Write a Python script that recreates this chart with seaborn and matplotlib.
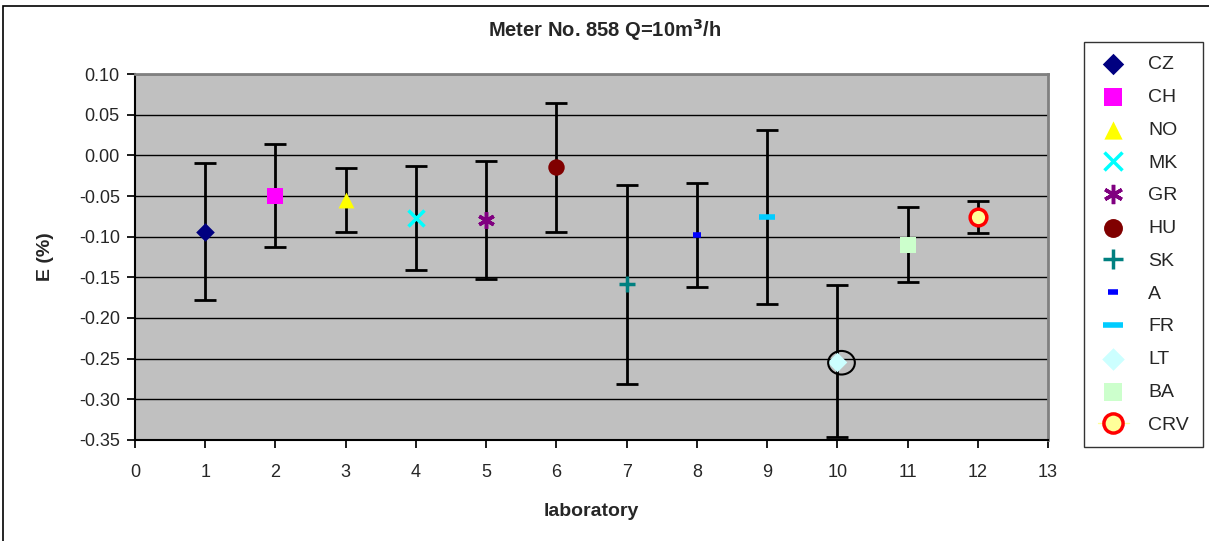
import numpy as np
import pandas as pd
import seaborn as sns
import matplotlib.pyplot as plt
from matplotlib.patches import Rectangle, Ellipse

labs = ["CZ", "CH", "NO", "MK", "GR", "HU", "SK", "A", "FR", "LT", "BA", "CRV"]
lab_no = [1, 2, 3, 4, 5, 6, 7, 8, 9, 10, 11, 12]
err = [-0.094, -0.050, -0.055, -0.077, -0.080, -0.014, -0.158, -0.098, -0.076, -0.254, -0.110, -0.076]
upper = [-0.009, 0.014, -0.016, -0.013, -0.007, 0.064, -0.036, -0.034, 0.031, -0.160, -0.064, -0.056]
lower = [-0.178, -0.113, -0.094, -0.141, -0.152, -0.094, -0.281, -0.162, -0.183, -0.346, -0.156, -0.096]
yticks = [-0.35, -0.30, -0.25, -0.20, -0.15, -0.10, -0.05, 0.00, 0.05, 0.10]

markers = ["D", "s", "^", "x", (6, 2, 0), "o", "+", "_", "_", "D", "s", "o"]
colors = ["#000080", "#FF00FF", "#FFFF00", "#00FFFF", "#800080", "#800000",
          "#008080", "#0000FF", "#00CCFF", "#CCFFFF", "#CCFFCC", "#FFFF99"]
sizes = [90, 130, 130, 110, 120, 140, 120, 30, 120, 100, 130, 140]

df = pd.DataFrame({"lab": labs, "no": lab_no, "E": err, "up": upper, "lo": lower})

sns.set_theme(style="white")
plt.rcParams["font.family"] = ["Liberation Sans", "DejaVu Sans"]

fig = plt.figure(figsize=(12.09, 5.41), dpi=100)
ax = fig.add_axes([0.1117, 0.1867, 0.7551, 0.6765])
ax.set_facecolor("#C0C0C0")

# error bars
ax.errorbar(df["no"], df["E"], yerr=[df["E"] - df["lo"], df["up"] - df["E"]],
            fmt="none", ecolor="black", elinewidth=2, capsize=8, capthick=2, zorder=2)

for i, row in df.iterrows():
    m = markers[i]
    if row["lab"] == "CRV":
        ax.plot([row["no"]], [row["E"]], marker="o", ms=12, mfc=colors[i], mec="red",
                mew=2.5, color="#FFFF99", lw=1, label=row["lab"], zorder=4)
    elif m in ["x", "+", "_"] or isinstance(m, tuple):
        lw = 4 if m == "_" else 2.5
        ax.plot([row["no"]], [row["E"]], marker=m, ms=np.sqrt(sizes[i]) * 1.1,
                mec=colors[i], mfc=colors[i], mew=lw, ls="none", label=row["lab"], zorder=4)
    else:
        sns.scatterplot(x=[row["no"]], y=[row["E"]], marker=m, color=colors[i], s=sizes[i],
                        edgecolor=colors[i], linewidth=0, ax=ax, label=row["lab"], zorder=4)

# circle around LT outlier
ax.add_patch(Ellipse((10.06, -0.255), 0.38, 0.029, fill=False, ec="black", lw=1.5, zorder=5))

ax.set_xlim(0, 13)
ax.set_ylim(-0.35, 0.10)
ax.set_xticks(range(0, 14))
ax.set_yticks(yticks)
ax.set_yticklabels([f"{v:.2f}" for v in yticks])
ax.yaxis.grid(True, color="black", lw=1)
ax.set_axisbelow(True)
ax.tick_params(axis="both", labelsize=13, length=6, direction="out", color="black",
               bottom=True, left=True)
ax.tick_params(axis="x", pad=11)
ax.tick_params(axis="y", pad=5)
for s in ["top", "right"]:
    ax.spines[s].set_color("#808080")
    ax.spines[s].set_linewidth(2)
for s in ["bottom", "left"]:
    ax.spines[s].set_color("black")
    ax.spines[s].set_linewidth(1.5)

ax.set_xlabel("laboratory", fontsize=14, fontweight="bold", labelpad=16)
ax.set_ylabel("E (%)", fontsize=14, fontweight="bold", labelpad=18)
fig.text(0.5, 0.945, r"Meter No. 858 Q=10m$^{\mathbf{3}}$/h", ha="center", va="center",
         fontsize=14.5, fontweight="bold")

handles, lbls = ax.get_legend_handles_labels()
ax.legend_.remove()
leg = fig.legend(handles, lbls, loc="upper left", bbox_to_anchor=(1084 / 1209, 1 - 42 / 541),
                 borderaxespad=0, frameon=True, fontsize=14, labelspacing=0.78,
                 handlelength=1.6, handletextpad=1.0, borderpad=0.7, fancybox=False,
                 edgecolor="black", markerscale=1.15)
leg.get_frame().set_linewidth(1)

fig.patches.append(Rectangle((3 / 1209, -0.01), 1.0, 1 - 6 / 541 + 0.01,
                             transform=fig.transFigure, fill=False, ec="black", lw=1.2))

fig.savefig("out.png", dpi=100)
